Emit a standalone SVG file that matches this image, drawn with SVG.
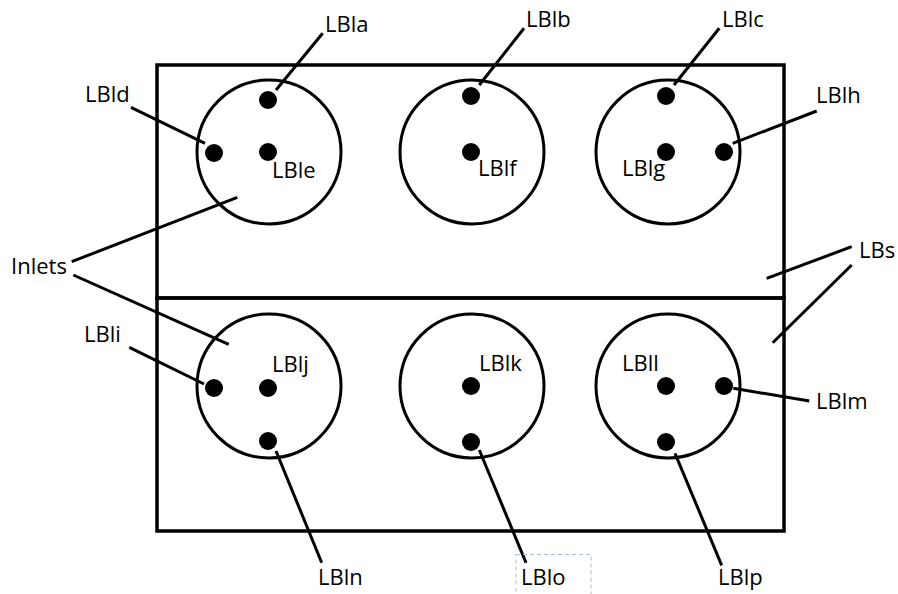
<svg xmlns="http://www.w3.org/2000/svg" width="898" height="594" viewBox="0 0 898 594">
  <style>
    .box { fill: none; stroke: #000; stroke-width: 3.5; }
    .inlet { fill: none; stroke: #000; stroke-width: 3; }
    .dot { fill: #000; }
    .lead { stroke: #000; stroke-width: 3; fill: none; }
    .lbl { font-family: "Open Sans", "Liberation Sans", sans-serif; font-size: 22px; fill: #000; }
  </style>
  <rect width="898" height="594" fill="#fff"/>

  <!-- plate sections -->
  <g id="section-upper">
    <rect class="box" x="157" y="65" width="627" height="233"/>
  </g>
  <g id="section-lower">
    <rect class="box" x="157" y="298" width="627" height="233"/>
  </g>

  <!-- upper row of inlets -->
  <g id="inlet-1">
    <circle class="inlet" cx="269" cy="152" r="72"/>
    <circle class="dot" cx="268" cy="100" r="9"/>
    <circle class="dot" cx="214" cy="153" r="9"/>
    <circle class="dot" cx="268" cy="152" r="9"/>
  </g>
  <g id="inlet-2">
    <circle class="inlet" cx="472" cy="152" r="72"/>
    <circle class="dot" cx="471" cy="96" r="9"/>
    <circle class="dot" cx="471" cy="152" r="9"/>
  </g>
  <g id="inlet-3">
    <circle class="inlet" cx="668" cy="152" r="72"/>
    <circle class="dot" cx="666" cy="96" r="9"/>
    <circle class="dot" cx="666" cy="152" r="9"/>
    <circle class="dot" cx="724" cy="152" r="9"/>
  </g>

  <!-- lower row of inlets -->
  <g id="inlet-4">
    <circle class="inlet" cx="269" cy="386" r="72"/>
    <circle class="dot" cx="214" cy="388" r="9"/>
    <circle class="dot" cx="268" cy="388" r="9"/>
    <circle class="dot" cx="268" cy="441" r="9"/>
  </g>
  <g id="inlet-5">
    <circle class="inlet" cx="472" cy="386" r="72"/>
    <circle class="dot" cx="471" cy="386" r="9"/>
    <circle class="dot" cx="471" cy="442" r="9"/>
  </g>
  <g id="inlet-6">
    <circle class="inlet" cx="668" cy="386" r="72"/>
    <circle class="dot" cx="666" cy="386" r="9"/>
    <circle class="dot" cx="724" cy="386" r="9"/>
    <circle class="dot" cx="666" cy="442" r="9"/>
  </g>

  <!-- leader lines -->
  <g id="connectors">
    <line class="lead" x1="276" y1="90" x2="322.7" y2="33.3"/>
    <line class="lead" x1="131" y1="107.3" x2="205" y2="143.3"/>
    <line class="lead" x1="71.7" y1="261.7" x2="237.3" y2="197.3"/>
    <line class="lead" x1="73.3" y1="275" x2="228.7" y2="344.3"/>
    <line class="lead" x1="524" y1="28.3" x2="479.3" y2="85"/>
    <line class="lead" x1="719.3" y1="28.3" x2="674" y2="85"/>
    <line class="lead" x1="816.7" y1="111" x2="732.7" y2="143.3"/>
    <line class="lead" x1="851.7" y1="246.7" x2="766.7" y2="278.3"/>
    <line class="lead" x1="851.7" y1="265" x2="772.7" y2="342.7"/>
    <line class="lead" x1="129.3" y1="347.3" x2="204" y2="384"/>
    <line class="lead" x1="276" y1="451" x2="321.7" y2="562.7"/>
    <line class="lead" x1="479.3" y1="450" x2="526" y2="562.7"/>
    <line class="lead" x1="733.3" y1="388.3" x2="809.3" y2="401"/>
    <line class="lead" x1="675" y1="453.3" x2="721.7" y2="565.3"/>
  </g>

  <!-- labels -->
  <g id="labels">
    <text class="lbl" x="325" y="32">LBla</text>
    <text class="lbl" x="85" y="102">LBld</text>
    <text class="lbl" x="272" y="178">LBle</text>
    <text class="lbl" x="11" y="274">Inlets</text>
    <text class="lbl" x="526" y="27">LBlb</text>
    <text class="lbl" x="722" y="27">LBlc</text>
    <text class="lbl" x="816" y="103">LBlh</text>
    <text class="lbl" x="478" y="176">LBlf</text>
    <text class="lbl" x="622" y="176">LBlg</text>
    <text class="lbl" x="859" y="258">LBs</text>
    <text class="lbl" x="84" y="342">LBli</text>
    <text class="lbl" x="272" y="372">LBlj</text>
    <text class="lbl" x="479" y="371">LBlk</text>
    <text class="lbl" x="622" y="371">LBll</text>
    <text class="lbl" x="816" y="409">LBlm</text>
    <text class="lbl" x="318" y="585">LBln</text>
    <text class="lbl" x="521" y="585">LBlo</text>
    <text class="lbl" x="718" y="585">LBlp</text>
  </g>

  <!-- selection frame around the LBlo label -->
  <rect x="516" y="554.5" width="75" height="45" fill="none" stroke="#a8bdd2" stroke-width="1" stroke-dasharray="4 3"/>
</svg>
